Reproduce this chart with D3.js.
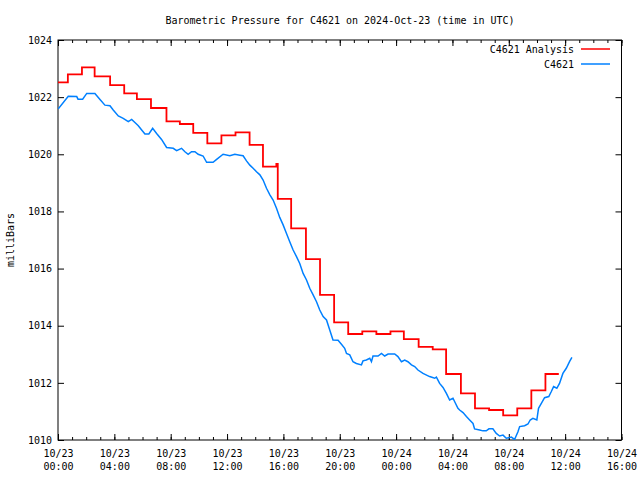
<!DOCTYPE html>
<html><head><meta charset="utf-8">
<script src="https://cdn.jsdelivr.net/npm/d3@7"></script>
<style>body{margin:0;background:#fff}svg{display:block}text{font-family:"DejaVu Sans Mono","Liberation Mono",monospace;font-size:10px;fill:#000}</style>
</head><body><svg id="c" width="640" height="480"></svg>
<script>
const title = "Barometric Pressure for C4621 on 2024-Oct-23 (time in UTC)";
const yLabel = "milliBars";
const seriesNames = ["C4621 Analysis", "C4621"];
const seriesColors = ["#ff0000", "#0080ff"];
const startTime = "2024-10-23T00:00:00Z";
const endTime = "2024-10-24T16:00:00Z";
const yTicks = [1010, 1012, 1014, 1016, 1018, 1020, 1022, 1024];

// analysis: hours since start (step begins), value
const analysisHours = [0,0.7,1.7,2.6,3.7,4.7,5.6,6.6,7.7,8.65,9.6,10.6,11.6,12.6,13.6,14.55,15.5,15.6,16.55,17.6,18.6,19.6,20.6,21.6,22.6,23.6,24.55,25.6,26.6,27.55,28.6,29.6,30.6,31.6,32.6,33.6,34.6,35.55];
const analysisMb = [1022.52,1022.80,1023.04,1022.73,1022.42,1022.13,1021.93,1021.62,1021.15,1021.06,1020.75,1020.38,1020.66,1020.77,1020.33,1019.57,1019.66,1018.44,1017.41,1016.33,1015.08,1014.12,1013.71,1013.80,1013.71,1013.80,1013.53,1013.26,1013.17,1012.31,1011.63,1011.11,1011.05,1010.86,1011.11,1011.74,1012.31,1012.31];

// observations
const obsHours = [0.02,0.73,1.33,1.42,1.75,2.04,2.62,2.98,3.33,3.69,3.92,4.28,4.63,4.99,5.23,5.46,5.70,5.94,6.17,6.45,6.72,7.00,7.35,7.71,8.18,8.42,8.77,9.01,9.24,9.48,9.72,9.95,10.30,10.55,11.01,11.26,11.72,12.20,12.55,12.91,13.14,13.38,13.62,13.85,14.09,14.33,14.56,14.80,15.04,15.27,15.51,15.74,15.98,16.22,16.45,16.69,16.93,17.16,17.40,17.64,17.87,18.11,18.35,18.58,18.82,19.06,19.29,19.52,19.88,20.12,20.35,20.48,20.71,20.94,21.18,21.54,21.65,21.89,22.13,22.25,22.36,22.72,22.96,23.19,23.43,23.90,24.13,24.38,24.61,24.84,25.09,25.32,25.55,25.91,26.38,26.74,26.86,27.09,27.33,27.57,27.80,28.04,28.16,28.39,28.51,28.75,28.99,29.22,29.46,29.57,29.93,30.16,30.40,30.59,30.87,31.11,31.35,31.59,31.82,32.18,32.41,32.65,32.77,33.12,33.36,33.52,33.71,33.99,34.11,34.31,34.54,34.84,35.01,35.18,35.41,35.60,35.84,36.08,36.31,36.48];
const obsMb = [1021.59,1022.03,1022.02,1021.93,1021.93,1022.13,1022.13,1021.92,1021.72,1021.70,1021.55,1021.34,1021.26,1021.14,1021.22,1021.11,1021.00,1020.85,1020.71,1020.71,1020.91,1020.73,1020.52,1020.24,1020.21,1020.13,1020.21,1020.09,1020.00,1020.09,1020.09,1020.00,1019.94,1019.72,1019.72,1019.82,1020.00,1019.95,1020.00,1019.97,1019.95,1019.77,1019.62,1019.51,1019.39,1019.28,1019.10,1018.81,1018.58,1018.40,1018.11,1017.79,1017.53,1017.23,1016.94,1016.65,1016.42,1016.18,1015.83,1015.60,1015.31,1015.08,1014.84,1014.55,1014.32,1014.20,1013.85,1013.50,1013.49,1013.35,1013.21,1013.03,1012.98,1012.74,1012.68,1012.63,1012.77,1012.80,1012.86,1012.74,1012.94,1012.94,1013.03,1012.94,1013.01,1013.01,1012.92,1012.74,1012.80,1012.74,1012.63,1012.57,1012.45,1012.33,1012.22,1012.16,1012.20,1011.98,1011.84,1011.63,1011.40,1011.46,1011.34,1011.11,1011.05,1010.96,1010.82,1010.70,1010.58,1010.39,1010.35,1010.32,1010.32,1010.39,1010.39,1010.23,1010.14,1010.17,1010.06,1010.10,1010.02,1010.29,1010.47,1010.50,1010.56,1010.70,1010.76,1010.70,1011.11,1011.28,1011.48,1011.52,1011.69,1011.87,1011.81,1011.98,1012.33,1012.51,1012.74,1012.89];

const L = 58, R = 621.5, T = 40, B = 440;
const t0 = new Date(startTime);
const toDate = h => new Date(t0.getTime() + h * 3600e3);
const x = d3.scaleUtc().domain([t0, new Date(endTime)]).range([L, R]);
const y = d3.scaleLinear().domain([1010, 1024]).range([B, T]);
const svg = d3.select("#c");

svg.append("defs").append("clipPath").attr("id", "clip")
  .append("rect").attr("x", L).attr("y", T).attr("width", R - L).attr("height", B - T);

const fmtD = d3.utcFormat("%m/%d"), fmtT = d3.utcFormat("%H:%M");
const majorX = d3.utcHour.every(4).range(t0, new Date(new Date(endTime).getTime() + 1));
const minorX = d3.utcHour.every(1).range(t0, new Date(new Date(endTime).getTime() + 1));

function clean(g){ g.select(".domain").remove(); g.selectAll("line").attr("stroke","#000"); g.attr("font-size", null).attr("font-family", null); }

// bottom axis
svg.append("g").attr("transform", `translate(0,${B})`)
  .call(d3.axisBottom(x).tickValues(minorX).tickSize(-3).tickFormat(""))
  .call(clean);
const gx = svg.append("g").attr("transform", `translate(0,${B})`)
  .call(d3.axisBottom(x).tickValues(majorX).tickSize(-6).tickFormat(""))
  .call(clean);
gx.selectAll(".tick").each(function(d){
  const t = d3.select(this).append("text").attr("text-anchor","middle");
  t.append("tspan").attr("x",0).attr("y",17).text(fmtD(d));
  t.append("tspan").attr("x",0).attr("y",30).text(fmtT(d));
});
// top axis (mirror)
svg.append("g").attr("transform", `translate(0,${T})`)
  .call(d3.axisTop(x).tickValues(minorX).tickSize(-3).tickFormat("")).call(clean);
svg.append("g").attr("transform", `translate(0,${T})`)
  .call(d3.axisTop(x).tickValues(majorX).tickSize(-6).tickFormat("")).call(clean);

// left axis
const gy = svg.append("g").attr("transform", `translate(${L},0)`)
  .call(d3.axisLeft(y).tickValues(yTicks).tickSize(-6).tickPadding(6).tickFormat(d3.format("d")))
  .call(clean);
gy.selectAll("text").attr("fill","#000");
// right axis (mirror)
svg.append("g").attr("transform", `translate(${R},0)`)
  .call(d3.axisRight(y).tickValues(yTicks).tickSize(-6).tickFormat("")).call(clean);

// frame
svg.append("rect").attr("x", L).attr("y", T).attr("width", R - L).attr("height", B - T)
  .attr("fill","none").attr("stroke","#000").attr("stroke-width",1);

// analysis step line
const aData = analysisHours.map((h,i)=>({t:toDate(h), v:analysisMb[i]}));
svg.append("path").datum(aData).attr("clip-path","url(#clip)")
  .attr("fill","none").attr("stroke",seriesColors[0]).attr("stroke-width",1.8)
  .attr("d", d3.line().x(d=>x(d.t)).y(d=>y(d.v)).curve(d3.curveStepAfter));

// observation line
const oData = obsHours.map((h,i)=>({t:toDate(h), v:obsMb[i]}));
svg.append("path").datum(oData).attr("clip-path","url(#clip)")
  .attr("fill","none").attr("stroke",seriesColors[1]).attr("stroke-width",1.5)
  .attr("d", d3.line().x(d=>x(d.t)).y(d=>y(d.v)));

// title
svg.append("text").attr("x", 340).attr("y", 24).attr("text-anchor","middle").text(title);
// y label
svg.append("text").attr("transform","translate(14,240) rotate(-90)").attr("text-anchor","middle").text(yLabel);

// legend
seriesNames.forEach((n,i)=>{
  const ly = 49 + i*15;
  svg.append("text").attr("x",574).attr("y",ly+4).attr("text-anchor","end").text(n);
  svg.append("line").attr("x1",581).attr("x2",610).attr("y1",ly).attr("y2",ly)
    .attr("stroke",seriesColors[i]).attr("stroke-width",1.5);
});
</script></body></html>
